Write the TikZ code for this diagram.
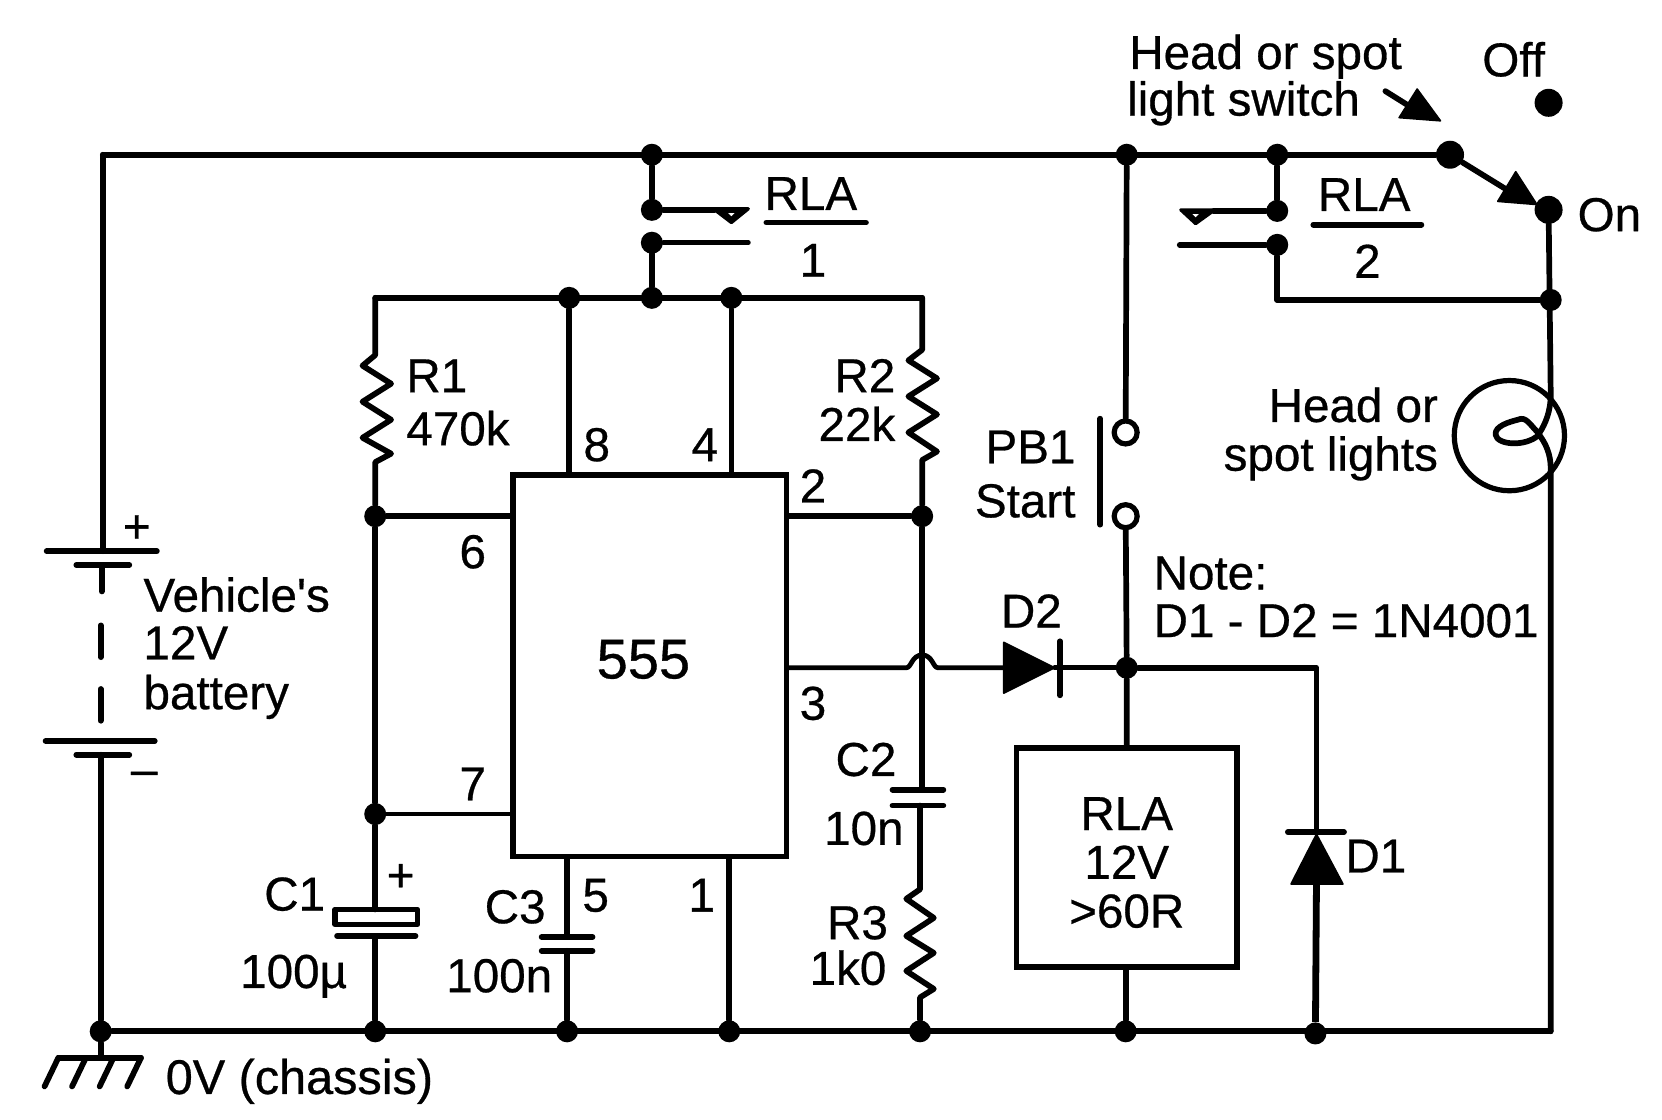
\documentclass[tikz,border=0pt]{standalone}
\usepackage{fontspec}
\setmainfont[FakeBold=0.6]{Liberation Sans}
\begin{document}
\begin{tikzpicture}[x=0.53pt,y=-0.53pt,
  wire/.style={line width=2.85pt,line cap=round,line join=round},
  thinwire/.style={line width=2.4pt,line cap=round,line join=round},
  dot/.style={circle,fill=black,draw=none,inner sep=0pt,minimum size=11pt},
  bigdot/.style={circle,fill=black,draw=none,inner sep=0pt,minimum size=14pt},
  term/.style={circle,draw=black,fill=white,line width=2.6pt,inner sep=0pt,minimum size=11.5pt},
  lbl/.style={font=\fontsize{23.8}{26}\selectfont,inner sep=0pt,anchor=base,yshift=0.5pt},
  lblw/.style={lbl,anchor=base west},
  lble/.style={lbl,anchor=base east},
  solid fill/.style={fill=black,draw=black,line width=0.8pt,line join=round},
  wedge/.style={fill=black,draw=black,line width=1.6pt,line join=round}]
\useasboundingbox (0,0) rectangle (1568,1056.6);

% --- junctions
\node[dot] (t1) at (615,146) {};
\node[dot] (t2) at (1063,146) {};
\node[dot] (t3) at (1205,146) {};
\node[bigdot] (swa) at (1368,146) {};
\node[bigdot] (swb) at (1461,198) {};
\node[bigdot] (swo) at (1461,97) {};
\node[dot] (c1a) at (615,198) {};
\node[dot] (c1b) at (615,229) {};
\node[dot] (c2a) at (1205,199) {};
\node[dot] (c2b) at (1205,231) {};
\node[dot] (v1) at (537,281) {};
\node[dot] (v2) at (615,281) {};
\node[dot] (v3) at (690,281) {};
\node[dot] (on1) at (1463,283) {};
\node[dot] (j6) at (354,487) {};
\node[dot] (j7) at (354,768) {};
\node[dot] (j2) at (870,487) {};
\node[dot] (jd) at (1063,630) {};
\node[dot] (g0) at (95,973) {};
\node[dot] (g1) at (354,973) {};
\node[dot] (g2) at (535,973) {};
\node[dot] (g3) at (688,973) {};
\node[dot] (g4) at (868,973) {};
\node[dot] (g5) at (1062,973) {};
\node[dot] (g6) at (1241,975) {};
\node[term] (pbt) at (1062,408) {};
\node[term] (pbb) at (1062,487) {};

% --- corners
\coordinate (tl) at (97,146);
\coordinate (vl) at (354,281);
\coordinate (vr) at (870,281);
\coordinate (gr) at (1463,973);

% --- boxes
\node[draw,line width=2.9pt,minimum width=258*0.53pt,minimum height=360*0.53pt,inner sep=0pt] (ic) at (613,628) {};
\node[draw,line width=2.9pt,minimum width=208*0.53pt,minimum height=206*0.53pt,inner sep=0pt] (rl) at (1063,809) {};

% --- supply rails
\draw[wire] (tl) -- (swa);
\draw[wire] (tl) -- (97,520);
\draw[wire] (g0) -- (gr);
\draw[wire] (vl) -- (vr);

% --- battery
\draw[wire] (44,520) -- (148,520);
\draw[wire] (72,533) -- (122,533);
\draw[wire] (96,533) -- (96,558);
\draw[wire] (95,590) -- (95,620);
\draw[wire] (95,650) -- (95,680);
\draw[wire] (43,699) -- (146,699);
\draw[wire] (72,712) -- (122,712);
\draw[wire] (95,712) -- (g0);
% --- ground
\draw[wire] (g0) -- (95,998);
\draw[wire] (55,998) -- (133,998);
\draw[wire] (55,998) -- (42,1025);
\draw[wire] (81,998) -- (68,1025);
\draw[wire] (107,998) -- (94,1025);
\draw[wire] (133,998) -- (120,1025);

% --- relay contact 1
\draw[wire] (t1) -- (c1a) -- (674,198);
\draw[wedge] (673,197) -- (690,210) -- (706,197) -- cycle;
\fill[white] (687,201) -- (690,204) -- (693,201) -- cycle;
\draw[thinwire] (c1b) -- (706,229);
\draw[wire] (c1b) -- (v2);
\draw[wire] (723,210) -- (817,210);

% --- relay contact 2
\draw[wire] (t3) -- (c2a) -- (1145,199);
\draw[wedge] (1146,198) -- (1128,211) -- (1114,198) -- cycle;
\fill[white] (1125,202) -- (1128,205) -- (1131,202) -- cycle;
\draw[wire] (c2b) -- (1113,231);
\draw[wire] (c2b) -- (1205,283) -- (on1);
\draw[wire] (1239,212) -- (1341,212);

% --- switch
\draw[wire] (swa) -- (1420,178);
\draw[solid fill] (1430,162) -- (1413,190) -- (1450,193) -- cycle;
\draw[wire] (1307,86) -- (1331,101);
\draw[solid fill] (1337,84) -- (1320,111) -- (1359,114) -- cycle;

% --- lamp
\draw[line width=2.6pt] (1424,411) circle (52);
\draw[wire] (swb) -- (1463,372) .. controls (1463,388) and (1458,400) .. (1452,409)
  .. controls (1444,402) and (1440,392) .. (1432,396)
  .. controls (1424,398) and (1410,402) .. (1411,410)
  .. controls (1412,420) and (1440,422) .. (1452,410)
  .. controls (1458,418) and (1463,428) .. (1463,442) -- (gr);

% --- push button
\draw[wire] (t2) -- (pbt);
\draw[wire] (pbb) -- (jd) -- (rl.north -| jd);
\draw[wire] (1038,395) -- (1038,495);

% --- timer wiring
\draw[wire] (v1) -- (v1 |- ic.north);
\draw[wire] (v3) -- (v3 |- ic.north);
\draw[wire] (v2) -- (c1b);
\draw[wire] (vl) -- (354,335) -- (342,345) -- (369,362) -- (342,379) -- (369,396) -- (342,413) -- (369,428) -- (354,436) -- (j6);
\draw[wire] (j6) -- (j6 -| ic.west);
\draw[wire] (j6) -- (j7);
\draw[thinwire] (j7) -- (j7 -| ic.west);
\draw[wire] (j2) -- (j2 -| ic.east);
\draw[wire] (vr) -- (870,330) -- (857,340) -- (884,357) -- (857,374) -- (884,391) -- (857,408) -- (884,426) -- (870,434) -- (j2);
\draw[wire] (j2) -- (870,745);

% --- output and diode D2
\draw[thinwire] (ic.east |- jd) -- (855,630) .. controls (860,630) and (860,618) .. (870,618)
  .. controls (880,618) and (880,630) .. (885,630) -- (947,630);
\draw[solid fill] (947,606) -- (947,654) -- (995,630) -- cycle;
\draw[wire] (1000,605) -- (1000,656);
\draw[thinwire] (995,630) -- (jd);
\draw[wire] (jd) -- (1242,630) -- (1242,785);

% --- D1
\draw[wire] (1215,785) -- (1268,785);
\draw[solid fill] (1242,787) -- (1218,834) -- (1267,834) -- cycle;
\draw[line width=3.4pt] (1242,834) -- (g6);

% --- C1
\draw[wire] (j7) -- (354,858);
\draw[line width=2.7pt,line join=round] (316,858) rectangle (394,872);
\draw[wire] (318,883) -- (392,883);
\draw[wire] (354,883) -- (g1);

% --- C2, R3
\draw[wire] (842,745) -- (890,745);
\draw[wire] (842,760) -- (890,760);
\draw[wire] (868,760) -- (868,839) -- (855,848) -- (881,866) -- (855,883) -- (881,899) -- (855,916) -- (881,933) -- (868,941) -- (g4);

% --- C3, pin 1
\draw[wire] (g2 |- ic.south) -- (535,884);
\draw[wire] (511,884) -- (559,884);
\draw[wire] (511,897) -- (559,897);
\draw[wire] (535,897) -- (g2);
\draw[wire] (g3 |- ic.south) -- (g3);
\draw[wire] (rl.south -| g5) -- (g5);

% --- labels
\node[lblw] (tHead) at (1065,66) {Head or spot};
\node[lblw] (tLight) at (1063,110) {light switch};
\node[lbl] (tOff) at (1428,73) {Off};
\node[lblw] (tOn) at (1488,219) {On};
\node[lbl] (tRLA1) at (765,199) {RLA};
\node[lbl] (tOne) at (767,262) {1};
\node[lbl] (tRLA2) at (1287,200) {RLA};
\node[lbl] (tTwo) at (1290,263) {2};
\node[lblw] (tR1) at (383,371) {R1};
\node[lblw] (t470) at (383,421) {470k};
\node[lble] (tR2) at (845,371) {R2};
\node[lble] (t22) at (845,417) {22k};
\node[lble] (tLampA) at (1357,399) {Head or};
\node[lble] (tLampB) at (1357,445) {spot lights};
\node[lble] (tPB) at (1015,438) {PB1};
\node[lble] (tStart) at (1015,489) {Start};
\node[lblw] (tNote) at (1088,557) {Note:};
\node[lblw] (tEq) at (1088,602) {D1 - D2 = 1N4001};
\node[lbl] (tD2) at (973,593) {D2};
\node[lblw] (tV) at (135,578) {Vehicle\textquotesingle s};
\node[lblw] (t12) at (135,623) {12V};
\node[lblw] (tBat) at (135,670) {battery};
\node[lbl] (tPlus) at (129,513) {+};
\node[lbl] (tMinus) at (136,742) {\textendash};
\node[lbl] (tPlusC) at (378,842) {+};
\node[lbl,font=\fontsize{28}{30}\selectfont] (t555) at (607,641) {555};
\node[lbl] (p8) at (563,436) {8};
\node[lbl] (p4) at (665,436) {4};
\node[lbl] (p2) at (767,475) {2};
\node[lbl] (p6) at (446,537) {6};
\node[lbl] (p3) at (767,680) {3};
\node[lbl] (p7) at (446,756) {7};
\node[lbl] (p5) at (562,861) {5};
\node[lbl] (p1) at (662,861) {1};
\node[lbl] (tC1) at (278,860) {C1};
\node[lbl] (t100u) at (277,933) {100µ};
\node[lbl] (tC3) at (486,872) {C3};
\node[lbl] (t100n) at (471,937) {100n};
\node[lbl] (tC2) at (817,733) {C2};
\node[lbl] (t10n) at (815,798) {10n};
\node[lbl] (tR3) at (809,887) {R3};
\node[lbl] (t1k0) at (800,930) {1k0};
\node[lbl] (tRa) at (1063,784) {RLA};
\node[lbl] (tRb) at (1063,830) {12V};
\node[lbl] (tRc) at (1063,876) {>60R};
\node[lbl] (tD1) at (1298,824) {D1};
\node[lblw,font=\fontsize{24.3}{26}\selectfont] (tGnd) at (156,1033) {0V (chassis)};
\end{tikzpicture}
\end{document}
